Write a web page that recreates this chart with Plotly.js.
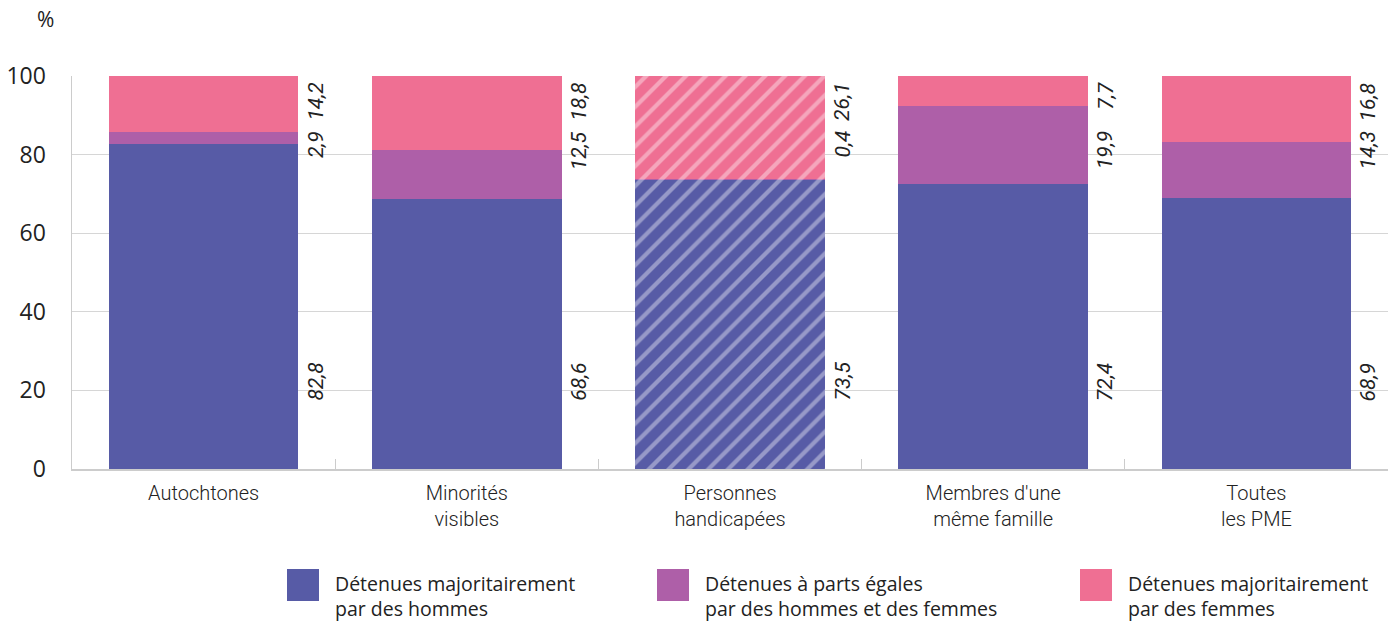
<!DOCTYPE html>
<html>
<head>
<meta charset="utf-8">
<script src="https://cdn.plot.ly/plotly-3.0.1.min.js"></script>
<style>
html,body{margin:0;padding:0;background:#fff;}
#chart{width:1395px;height:623px;}
</style>
</head>
<body>
<div id="chart"></div>
<script>
// ---- Data ----
var categories = ["Autochtones", "Minorités<br>visibles", "Personnes<br>handicapées", "Membres d'une<br>même famille", "Toutes<br>les PME"];
var seriesNames = ["Détenues majoritairement<br>par des hommes", "Détenues à parts égales<br>par des hommes et des femmes", "Détenues majoritairement<br>par des femmes"];
var menValues   = [82.8, 68.6, 73.5, 72.4, 68.9];
var equalValues = [2.9, 12.5, 0.4, 19.9, 14.3];
var womenValues = [14.2, 18.8, 26.1, 7.7, 16.8];
var hatched     = [false, false, true, false, false];
var yTicks = [0, 20, 40, 60, 80, 100];

// ---- Styles ----
var colors = ["#575BA6", "#AE5FA8", "#EF6F93"];
var allValues = [menValues, equalValues, womenValues];

function fmt(v){ return v.toFixed(1).replace('.', ','); }

var traces = allValues.map(function(vals, s){
  return {
    type: 'bar',
    x: categories,
    y: vals,
    name: seriesNames[s],
    showlegend: false,
    hoverinfo: 'none',
    marker: {
      color: colors[s],
      line: {width: 0},
      pattern: {
        shape: hatched.map(function(h){ return h ? '/' : ''; }),
        fgcolor: '#ffffff',
        fgopacity: 0.38,
        size: 14,
        solidity: 0.3,
        fillmode: 'overlay'
      }
    }
  };
});

var annotations = [];
var labelFont = {family: 'Roboto, sans-serif', size: 21, color: '#222', style: 'italic'};
categories.forEach(function(c, i){
  annotations.push({x: c, y: 100, xref: 'x', yref: 'y', text: fmt(womenValues[i]), textangle: -90,
    showarrow: false, xanchor: 'center', yanchor: 'top', xshift: 112, yshift: -5, font: labelFont});
  annotations.push({x: c, y: 100, xref: 'x', yref: 'y', text: fmt(equalValues[i]), textangle: -90,
    showarrow: false, xanchor: 'center', yanchor: 'top', xshift: 112, yshift: -53, font: labelFont});
  annotations.push({x: c, y: 0, xref: 'x', yref: 'y', text: fmt(menValues[i]), textangle: -90,
    showarrow: false, xanchor: 'center', yanchor: 'bottom', xshift: 112, yshift: 66, font: labelFont});
});

// "%" unit label
annotations.push({xref: 'paper', yref: 'paper', x: -0.0205, y: 1.146, text: '%', showarrow: false,
  xanchor: 'center', yanchor: 'middle', font: {family: 'Open Sans, sans-serif', size: 21, color: '#222'}});

// custom legend
var shapes = [];
var legendX = [287, 657, 1080];
var plotL = 72, plotW = 1316, plotT = 76, plotH = 393;
function px2x(px){ return (px - plotL) / plotW; }
function py2y(py){ return (plotT + plotH - py) / plotH; }
seriesNames.forEach(function(n, s){
  shapes.push({type: 'rect', xref: 'paper', yref: 'paper',
    x0: px2x(legendX[s]), x1: px2x(legendX[s] + 32), y0: py2y(601), y1: py2y(569),
    fillcolor: colors[s], line: {width: 0}});
  annotations.push({xref: 'paper', yref: 'paper', x: px2x(legendX[s] + 46), y: py2y(596),
    text: n, showarrow: false, xanchor: 'left', yanchor: 'middle', align: 'left',
    font: {family: 'Open Sans, sans-serif', size: 19.5, color: '#222'}});
});

var layout = {
  width: 1395, height: 623,
  margin: {l: 72, r: 7, t: 76, b: 154},
  paper_bgcolor: '#fff', plot_bgcolor: '#fff',
  barmode: 'stack',
  bargap: 0.28,
  showlegend: false,
  xaxis: {
    type: 'category',
    tickson: 'boundaries',
    ticks: 'inside', ticklen: 10, tickcolor: '#cccccc', tickwidth: 1,
    showline: true, linecolor: '#cccccc', linewidth: 1.5,
    showgrid: false,
    tickfont: {family: 'Roboto, sans-serif', size: 20, color: '#222', weight: 300},
    ticklabelstandoff: 5,
    fixedrange: true
  },
  yaxis: {
    range: [0, 100],
    tickvals: yTicks,
    ticktext: yTicks.map(String),
    showline: true, linecolor: '#cccccc', linewidth: 1.5,
    showgrid: true, gridcolor: '#d6d6d6', gridwidth: 1,
    zeroline: false,
    ticks: '',
    ticklabelstandoff: 20,
    tickfont: {family: 'Open Sans, sans-serif', size: 23, color: '#222'},
    fixedrange: true
  },
  annotations: annotations,
  shapes: shapes
};

Plotly.newPlot('chart', traces, layout, {displayModeBar: false, staticPlot: true});
</script>
</body>
</html>
